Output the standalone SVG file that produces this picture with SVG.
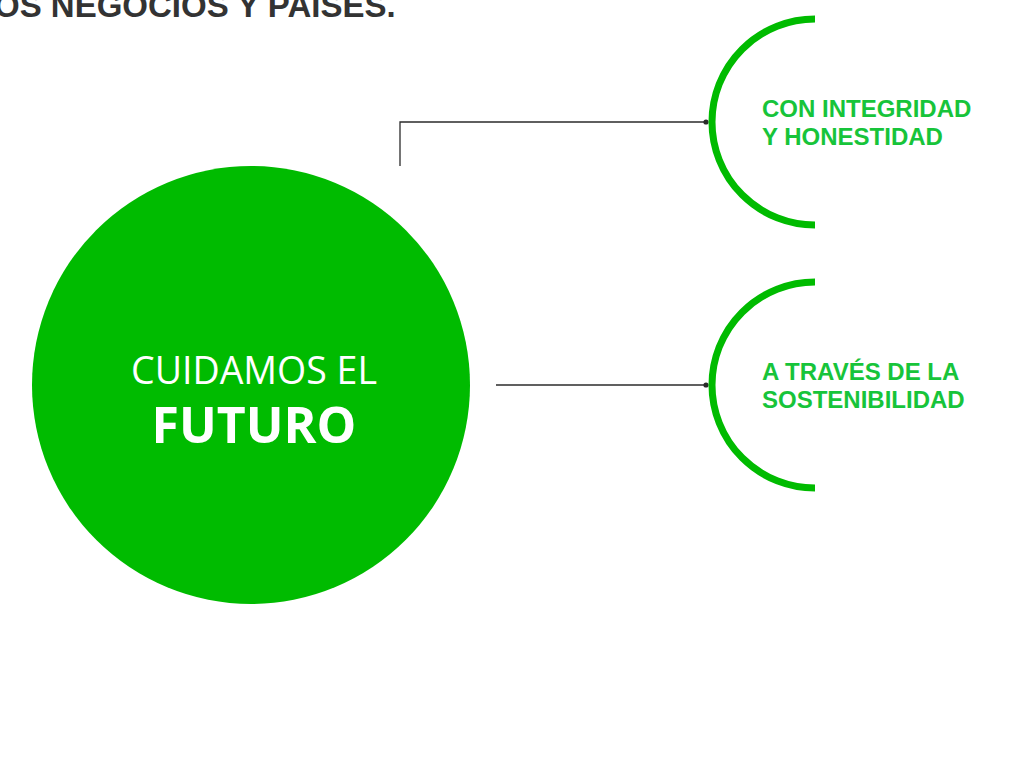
<svg xmlns="http://www.w3.org/2000/svg" width="1021" height="759" viewBox="0 0 1021 759">
<style>
.head{font-family:"Liberation Sans",Arial,sans-serif;font-weight:bold;font-size:33px;fill:#333333}
.lbl{font-family:"Liberation Sans",Arial,sans-serif;font-weight:bold;font-size:24px;fill:#17C43A}
.arc{fill:none;stroke:#00BB00;stroke-width:7}
.conn{fill:none;stroke:#2b2b2b;stroke-width:1.3}
.dot{fill:#2b2b2b}
.ctext{font-family:"Open Sans",sans-serif;fill:#ffffff;text-anchor:middle}
</style>
<rect width="1021" height="759" fill="#ffffff"/>
<text class="head" x="-6" y="17">OS NEGOCIOS Y PAÍSES.</text>
<g id="connectors">
<polyline class="conn" points="400,166 400,122 706,122"/>
<circle class="dot" cx="706" cy="122" r="2.6"/>
<line class="conn" x1="496" y1="385" x2="706" y2="385"/>
<circle class="dot" cx="706" cy="385" r="2.6"/>
</g>
<g id="center">
<circle cx="251" cy="385" r="219" fill="#00BB00"/>
<text class="ctext" x="254" y="384" font-size="37.5" font-weight="400">CUIDAMOS EL</text>
<text class="ctext" x="254" y="443" font-size="50" font-weight="700">FUTURO</text>
</g>
<g id="integridad">
<path class="arc" d="M815,19 A103,103 0 0 0 815,225"/>
<text class="lbl" x="762" y="117">CON INTEGRIDAD</text>
<text class="lbl" x="762" y="145">Y HONESTIDAD</text>
</g>
<g id="sostenibilidad">
<path class="arc" d="M815,282 A103,103 0 0 0 815,488"/>
<text class="lbl" x="762" y="380">A TRAVÉS DE LA</text>
<text class="lbl" x="762" y="408">SOSTENIBILIDAD</text>
</g>
</svg>
